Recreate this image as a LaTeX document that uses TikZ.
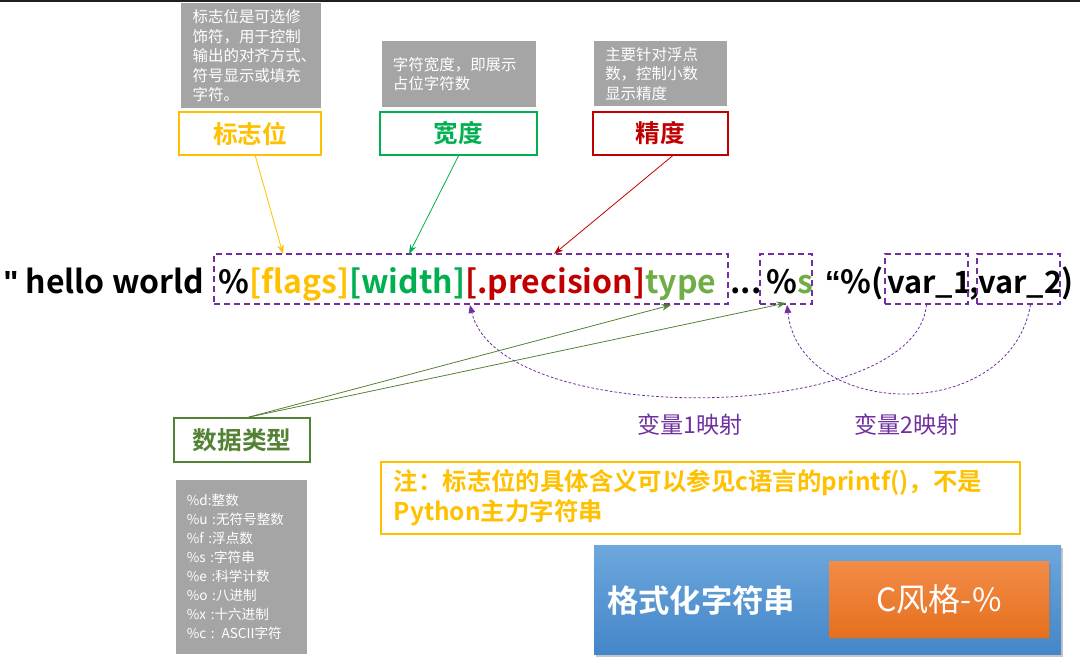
\documentclass[tikz,border=0pt]{standalone}
\usepackage{fontspec}
\setmainfont{Noto Sans CJK SC}[BoldFont={Noto Sans CJK SC Bold}]
\newfontfamily\qf{Liberation Sans}
\usetikzlibrary{arrows.meta, positioning, fit, shadows}
\definecolor{Flag}{HTML}{FFC000}
\definecolor{Wid}{HTML}{00B050}
\definecolor{Prec}{HTML}{C00000}
\definecolor{Typ}{HTML}{70AD47}
\definecolor{Olive}{HTML}{548235}
\definecolor{Purp}{HTML}{7030A0}
\definecolor{Note}{HTML}{A5A5A5}
\definecolor{SkyT}{HTML}{6DA7DD}
\definecolor{SkyB}{HTML}{4486C8}
\definecolor{OrgT}{HTML}{F28C48}
\definecolor{OrgB}{HTML}{E6701E}

\begin{document}
\begin{tikzpicture}[x=0.75pt, y=-0.75pt,
  gbox/.style={fill=Note, text=white, anchor=north west, inner ysep=0pt,
     align=left, font=\fontsize{11.6}{14.6}\selectfont},
  tag/.style={draw=#1, line width=1.3pt, text=#1, inner sep=0pt,
     font=\fontsize{18.5}{20}\selectfont\bfseries},
  seg/.style={anchor=base west, inner sep=0pt,
     font=\fontsize{24}{28}\selectfont\bfseries},
  slot/.style={draw=Purp, line width=1pt, dash pattern=on 4.5pt off 3pt, inner sep=0pt},
  arr/.style={-{Stealth[length=7pt, width=5pt]}, line width=0.6pt, #1},
  map/.style={-{Triangle[length=6pt, width=5pt]}, Purp, line width=0.6pt,
     dash pattern=on 2pt off 1.5pt},
  maplbl/.style={text=Purp, inner sep=0pt, font=\fontsize{17.3}{18}\selectfont}]
  \useasboundingbox (0,0) rectangle (1080,670);
  \fill[black!88] (0,0) rectangle (1080,2.5);

  % notes above the spec
  \node[gbox, inner xsep=8.5pt, text width=88pt, minimum height=78.75pt] (fnote)
        at (181,3) {标志位是可选修\\饰符，用于控制\\输出的对齐方式、\\符号显示或填充\\字符。};
  \node[gbox, inner xsep=8pt, text width=99.5pt, minimum height=49.5pt] (wnote)
        at (382,41) {字符宽度，即展示\\占位字符数};
  \node[gbox, inner xsep=8.25pt, text width=83.25pt, minimum height=48.75pt] (pnote)
        at (594,41) {主要针对浮点\\数，控制小数\\显示精度};
  \node[tag=Flag, minimum width=106.5pt, minimum height=32.25pt] (flag) at (250,133.5) {标志位};
  \node[tag=Wid, minimum width=117.75pt, minimum height=32.25pt] (wid) at (458.5,133.5) {宽度};
  \node[tag=Prec, minimum width=101.25pt, minimum height=32.25pt] (prec) at (660.5,133.5) {精度};

  % the format string
  \node[seg] (hw) at (3,293) {{\qf "} hello world};
  \node[seg] (spec) at (218,293) {\%\textcolor{Flag}{[flags]}\textcolor{Wid}{[width]}%
        \textcolor{Prec}{[.precision]}\textcolor{Typ}{type}};
  \node[seg] (dots) at (730,293) {...};
  \node[seg] (pct) at (766,293) {\%\textcolor{Typ}{s}};
  \node[seg, anchor=base east] (open) at (884,293) {{\qf “}\%(};
  \node[seg, font=\fontsize{23}{28}\selectfont\bfseries] (va) at (887,293) {var\_1};
  \node[seg] (comma) at (969,293) {,};
  \node[seg, font=\fontsize{23}{28}\selectfont\bfseries] (vb) at (978,293) {var\_2};
  \node[seg] (close) at (1061,293) {)};
  \node[slot, fit={(214,254) (728,304)}] (fmtbox) {};
  \node[slot, fit={(760,254) (812,304)}] (sbox) {};
  \node[slot, fit={(885,254) (968,304)}] (vabox) {};
  \node[slot, fit={(977,254) (1060,304)}] (vbbox) {};

  \coordinate (ft) at (283,254);
  \coordinate (wt) at (409,254);
  \coordinate (pt) at (554,254);
  \draw[arr=Flag] ([xshift=4pt]flag.south) -- (ft);
  \draw[arr=Wid] (wid.south) -- (wt);
  \draw[arr=Prec] ([xshift=9pt]prec.south) -- (pt);

  % data types
  \node[tag=Olive, minimum width=102pt, minimum height=33pt] (dtype) at (242,440) {数据类型};
  \node[gbox, inner xsep=8pt, text width=82.25pt, minimum height=130.5pt,
        font=\fontsize{10.2}{14.25}\selectfont] (tlist) at (176,480)
        {\%d:整数\\\%u :无符号整数\\\%f :浮点数\\\%s :字符串\\\%e :科学计数\\%
         \%o :八进制\\\%x :十六进制\\\%c : ASCII字符};
  \coordinate (tt) at (671,305);
  \coordinate (st) at (786,303);
  \draw[arr=Olive] ([xshift=5pt]dtype.north) -- (tt);
  \draw[arr=Olive] ([xshift=5pt]dtype.north) -- (st);

  % variable mapping
  \coordinate (m1) at (470,305);
  \coordinate (m2) at (787,305);
  \draw[map] (vabox.south) .. controls (916,425) and (500,430) .. (m1);
  \draw[map] ([xshift=9pt]vbbox.south) .. controls (1010,425) and (800,420) .. (m2);
  \node[maplbl] (l1) at (690,425) {变量1映射};
  \node[maplbl] (l2) at (907,425) {变量2映射};

  % note and title
  \node[draw=Flag, line width=1.2pt, anchor=north west, inner xsep=9.75pt, inner ysep=0pt,
        minimum height=54pt, text=Flag, text width=460pt, align=left,
        font=\fontsize{18.3}{22.5}\selectfont\bfseries] (note) at (380,461)
        {注：标志位的具体含义可以参见c语言的printf()，不是\\Python主力字符串};
  \node[fit={(594,545) (1061,654)}, inner sep=0pt, top color=SkyT, bottom color=SkyB,
        drop shadow={shadow xshift=1.5pt, shadow yshift=-2pt, opacity=0.45}] (title) {};
  \node[anchor=west, text=white, inner sep=0pt,
        font=\fontsize{23.5}{26}\selectfont\bfseries] (tname) at (607,600) {格式化字符串};
  \node[fit={(829,561) (1049,637)}, inner sep=0pt, top color=OrgT, bottom color=OrgB,
        drop shadow={shadow xshift=1.5pt, shadow yshift=-2pt, opacity=0.45}] (style) {};
  \node[text=white, inner sep=0pt, font=\fontsize{24}{26}\selectfont] (stext)
        at (style.center) {C风格-\%};
\end{tikzpicture}
\end{document}
